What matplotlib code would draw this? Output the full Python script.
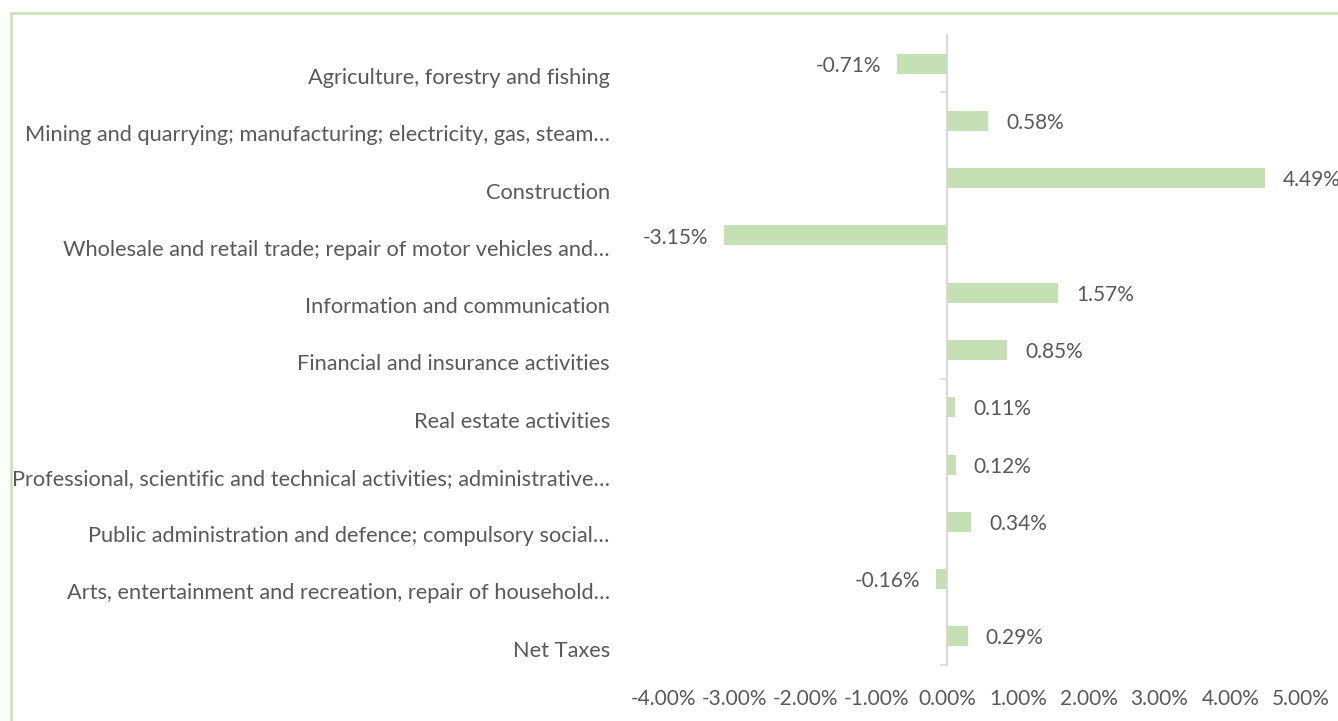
import matplotlib
matplotlib.use("Agg")
import matplotlib.pyplot as plt
from matplotlib.patches import Rectangle
import matplotlib.transforms as mtransforms

# data (percent change)
sectors = [
    "Agriculture, forestry and fishing",
    "Mining and quarrying; manufacturing; electricity, gas, steam…",
    "Construction",
    "Wholesale and retail trade; repair of motor vehicles and…",
    "Information and communication",
    "Financial and insurance activities",
    "Real estate activities",
    "Professional, scientific and technical activities; administrative…",
    "Public administration and defence; compulsory social…",
    "Arts, entertainment and recreation, repair of household…",
    "Net Taxes",
]
values = [-0.71, 0.58, 4.49, -3.15, 1.57, 0.85, 0.11, 0.12, 0.34, -0.16, 0.29]
xticks = [-4, -3, -2, -1, 0, 1, 2, 3, 4, 5]

bar_color = "#C5E0B4"
text_color = "#595959"
axis_color = "#D9D9D9"
font = "Lato"

W, H = 1338, 721
fig = plt.figure(figsize=(W / 100, H / 100), dpi=100)
ax = fig.add_axes([664 / W, (H - 665) / H, 637 / W, 630 / H])

ypos = list(range(len(sectors)))
ax.barh(ypos, values, height=0.35, color=bar_color, zorder=2)

ax.set_xlim(-4, 5)
ax.set_ylim(len(sectors) - 0.5, -0.5)

# axes styling
for s in ["top", "right", "bottom"]:
    ax.spines[s].set_visible(False)
ax.spines["left"].set_position(("data", 0))
ax.spines["left"].set_color(axis_color)
ax.spines["left"].set_linewidth(1.5)
ax.set_yticks([0.5, 5.5, 10.5])
ax.set_yticklabels([])
ax.tick_params(axis="y", length=5, width=1.2, color=axis_color)

ax.set_xticks(xticks)
ax.set_xticklabels([f"{t:.2f}%" for t in xticks], fontsize=15,
                   color=text_color, fontfamily=font)
ax.tick_params(axis="x", length=0, pad=17)

# category labels, sitting at the left of the plot area (Excel "low" position)
trans = mtransforms.blended_transform_factory(ax.transAxes, ax.transData)
for y, name in zip(ypos, sectors):
    ax.text(-0.085, y + 0.25, name, transform=trans, ha="right", va="center",
            fontsize=15.7, color=text_color, fontfamily=font)

# data labels
for y, v in zip(ypos, values):
    if v >= 0:
        ax.annotate(f"{v:.2f}%", (v, y), xytext=(13, -1.5), textcoords="offset points",
                    ha="left", va="center", fontsize=15, color=text_color,
                    fontfamily=font, annotation_clip=False)
    else:
        ax.annotate(f"{v:.2f}%", (v, y), xytext=(-11.5, -1.5), textcoords="offset points",
                    ha="right", va="center", fontsize=15, color=text_color,
                    fontfamily=font, annotation_clip=False)

# chart border (cut off at right and bottom)
fig.patches.append(Rectangle((10.5 / W, -0.1), 1.2, 1.1 - 12.5 / H,
                             transform=fig.transFigure, fill=False,
                             edgecolor=bar_color, linewidth=1.8))

fig.savefig("out.png", dpi=100)
